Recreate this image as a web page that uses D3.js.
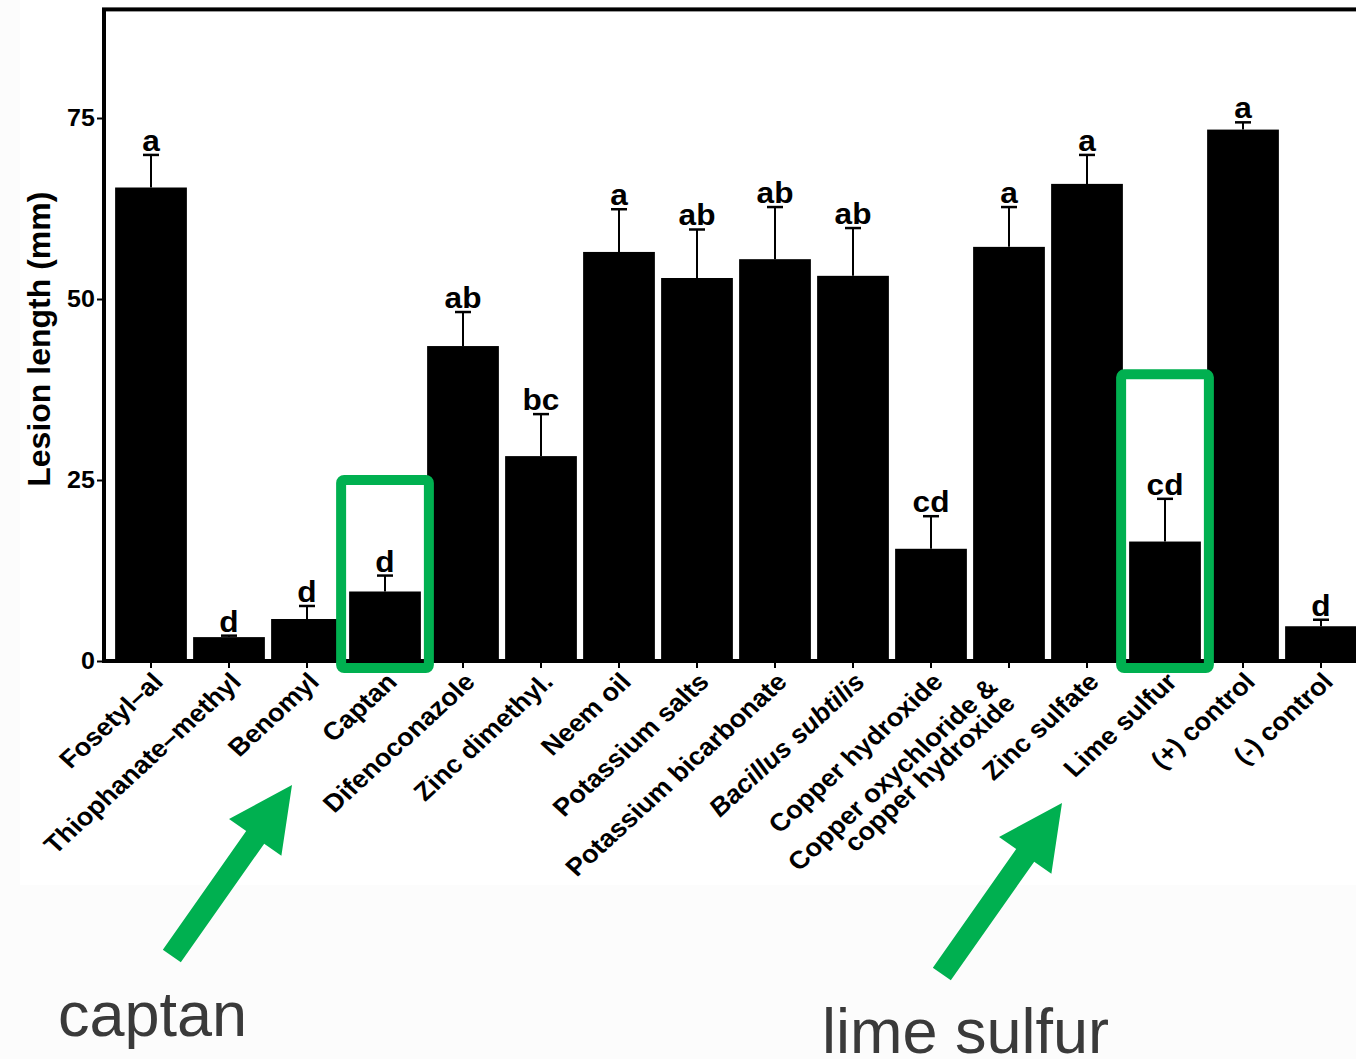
<!DOCTYPE html>
<html>
<head>
<meta charset="utf-8">
<script src="https://cdn.jsdelivr.net/npm/d3@7"></script>
<style>
  html, body { margin: 0; padding: 0; background: #fcfcfc; }
  svg { display: block; }
  text { font-family: "Liberation Sans", Arial, Helvetica, sans-serif; }
</style>
</head>
<body>
<script>
// Treatments (x axis), mean lesion length, standard error, and significance letters
const categories = [
  "Fosetyl\u2013al", "Thiophanate\u2013methyl", "Benomyl", "Captan", "Difenoconazole",
  "Zinc dimethyl.", "Neem oil", "Potassium salts", "Potassium bicarbonate",
  "Bacillus subtilis", "Copper hydroxide", "Copper oxychloride &\ncopper hydroxide",
  "Zinc sulfate", "Lime sulfur", "(+) control", "(-) control"
];
const means  = [65.4, 3.3, 5.8, 9.6, 43.5, 28.3, 56.5, 52.9, 55.5, 53.2, 15.5, 57.2, 65.9, 16.5, 73.4, 4.8];
const errors = [4.5, 0.2, 1.8, 2.2, 4.7, 5.8, 5.9, 6.7, 7.2, 6.6, 4.5, 5.5, 4.0, 5.9, 1.0, 0.9];
const letters = ["a", "d", "d", "d", "ab", "bc", "a", "ab", "ab", "ab", "cd", "a", "a", "cd", "a", "d"];
const italicLabels = ["Bacillus subtilis"];
const yTicks = [0, 25, 50, 75];
const yTitle = "Lesion length (mm)";

// Highlighted treatments: box reaches up to this value
const highlights = [
  { cat: "Captan", top: 25, note: "captan" },
  { cat: "Lime sulfur", top: 39.6, note: "lime sulfur" }
];

const W = 1356, H = 1059;
const wide = 1.09; // horizontal stretch applied to the chart lettering
const svg = d3.select("body").append("svg").attr("width", W).attr("height", H);

// white plotting sheet
svg.append("rect").attr("x", 20).attr("y", 0).attr("width", W - 20).attr("height", 885).attr("fill", "#ffffff");

const data = categories.map((c, i) => ({ cat: c, mean: means[i], se: errors[i], letter: letters[i] }));

const y = d3.scaleLinear().domain([0, 90]).range([661, 9.4]);
const x = d3.scaleBand().domain(categories).range([112, 1360]).paddingInner(0.08).paddingOuter(0.04);
const cx = c => x(c) + x.bandwidth() / 2;

const panelLeft = 104;
const panelRight = x.range()[1] + x.step() * 0.14;

// bars
svg.append("g").selectAll("rect").data(data).join("rect")
  .attr("x", d => x(d.cat))
  .attr("width", x.bandwidth())
  .attr("y", d => y(d.mean))
  .attr("height", d => y(0) - y(d.mean))
  .attr("fill", "#000");

// upper error bars
const eb = svg.append("g").attr("stroke", "#000");
eb.selectAll("line.stem").data(data).join("line").attr("class", "stem")
  .attr("x1", d => cx(d.cat)).attr("x2", d => cx(d.cat))
  .attr("y1", d => y(d.mean)).attr("y2", d => y(d.mean + d.se))
  .attr("stroke-width", 2);
eb.selectAll("line.cap").data(data).join("line").attr("class", "cap")
  .attr("x1", d => cx(d.cat) - 8).attr("x2", d => cx(d.cat) + 8)
  .attr("y1", d => y(d.mean + d.se)).attr("y2", d => y(d.mean + d.se))
  .attr("stroke-width", 2.5);

// significance letters
svg.append("g").selectAll("text").data(data).join("text")
  .attr("transform", d => `translate(${cx(d.cat)},${y(d.mean + d.se) - 4}) scale(${wide},1)`)
  .attr("text-anchor", "middle")
  .attr("font-size", 29).attr("font-weight", "bold")
  .text(d => d.letter);

// panel border
svg.append("rect")
  .attr("x", panelLeft).attr("y", y(90))
  .attr("width", panelRight - panelLeft).attr("height", y(0) - y(90))
  .attr("fill", "none").attr("stroke", "#000").attr("stroke-width", 4);

// y axis
const yAxis = svg.append("g").attr("transform", `translate(${panelLeft - 1},0)`)
  .call(d3.axisLeft(y).tickValues(yTicks).tickSize(6).tickFormat(""));
yAxis.select(".domain").remove();
yAxis.selectAll(".tick line").attr("stroke-width", 2);
svg.append("g").selectAll("text").data(yTicks).join("text")
  .attr("transform", d => `translate(95,${y(d) + 8}) scale(${wide},1)`)
  .attr("text-anchor", "end")
  .attr("font-size", 23).attr("font-weight", "bold")
  .text(d => d);

// x axis ticks
const xAxis = svg.append("g").attr("transform", `translate(0,${y(0) + 1})`)
  .call(d3.axisBottom(x).tickSize(6).tickFormat(""));
xAxis.select(".domain").remove();
xAxis.selectAll(".tick line").attr("stroke-width", 2);

// x tick labels, rotated 45 degrees
const xl = svg.append("g");
categories.forEach(c => {
  const lines = c.split("\n");
  const ax = cx(c) + 12, ay = y(0) + 21;
  const shiftBack = lines.length > 1 ? -19 : 0;
  const t = xl.append("text")
    .attr("transform", `translate(${ax},${ay}) scale(${wide},1) rotate(-45)`)
    .attr("text-anchor", "end")
    .attr("font-size", 25).attr("font-weight", "bold")
    .attr("font-style", italicLabels.includes(c) ? "italic" : "normal");
  lines.forEach((ln, k) => {
    t.append("tspan").attr("x", shiftBack).attr("y", (k - (lines.length - 1) / 2) * 23 + 2).text(ln);
  });
});

// y axis title
svg.append("text")
  .attr("transform", `translate(50,${(y(0) + y(90)) / 2 + 4}) rotate(-90)`)
  .attr("text-anchor", "middle")
  .attr("font-size", 32).attr("font-weight", "bold")
  .text(yTitle);

// highlight boxes
const green = "#00b050";
svg.append("g").selectAll("rect").data(highlights).join("rect")
  .attr("x", d => x(d.cat) - 8)
  .attr("width", x.bandwidth() + 16)
  .attr("y", d => y(d.top))
  .attr("height", d => y(0) + 7 - y(d.top))
  .attr("rx", 3)
  .attr("fill", "none").attr("stroke", green).attr("stroke-width", 10);

// arrows pointing at the highlighted treatments
const arrowLen = 209, headLen = 64, headHalf = 32, shaftHalf = 11;
const arrowShape = [
  [0, 0], [-headLen, -headHalf], [-headLen, -shaftHalf], [-arrowLen, -shaftHalf],
  [-arrowLen, shaftHalf], [-headLen, shaftHalf], [-headLen, headHalf]
];
const arrows = [
  { tipX: 292, tipY: 785, angle: -54.9 },
  { tipX: 1062, tipY: 803, angle: -54.9 }
];
svg.append("g").selectAll("path").data(arrows).join("path")
  .attr("transform", d => `translate(${d.tipX},${d.tipY}) rotate(${d.angle})`)
  .attr("d", d3.line()(arrowShape) + "Z")
  .attr("fill", green);

// captions under the arrows
const captions = [
  { text: highlights[0].note, x: 58, y: 1036 },
  { text: highlights[1].note, x: 822, y: 1053 }
];
svg.append("g").selectAll("text").data(captions).join("text")
  .attr("x", d => d.x).attr("y", d => d.y)
  .attr("font-size", 63).attr("fill", "#3a3a3a")
  .text(d => d.text);
</script>
</body>
</html>
